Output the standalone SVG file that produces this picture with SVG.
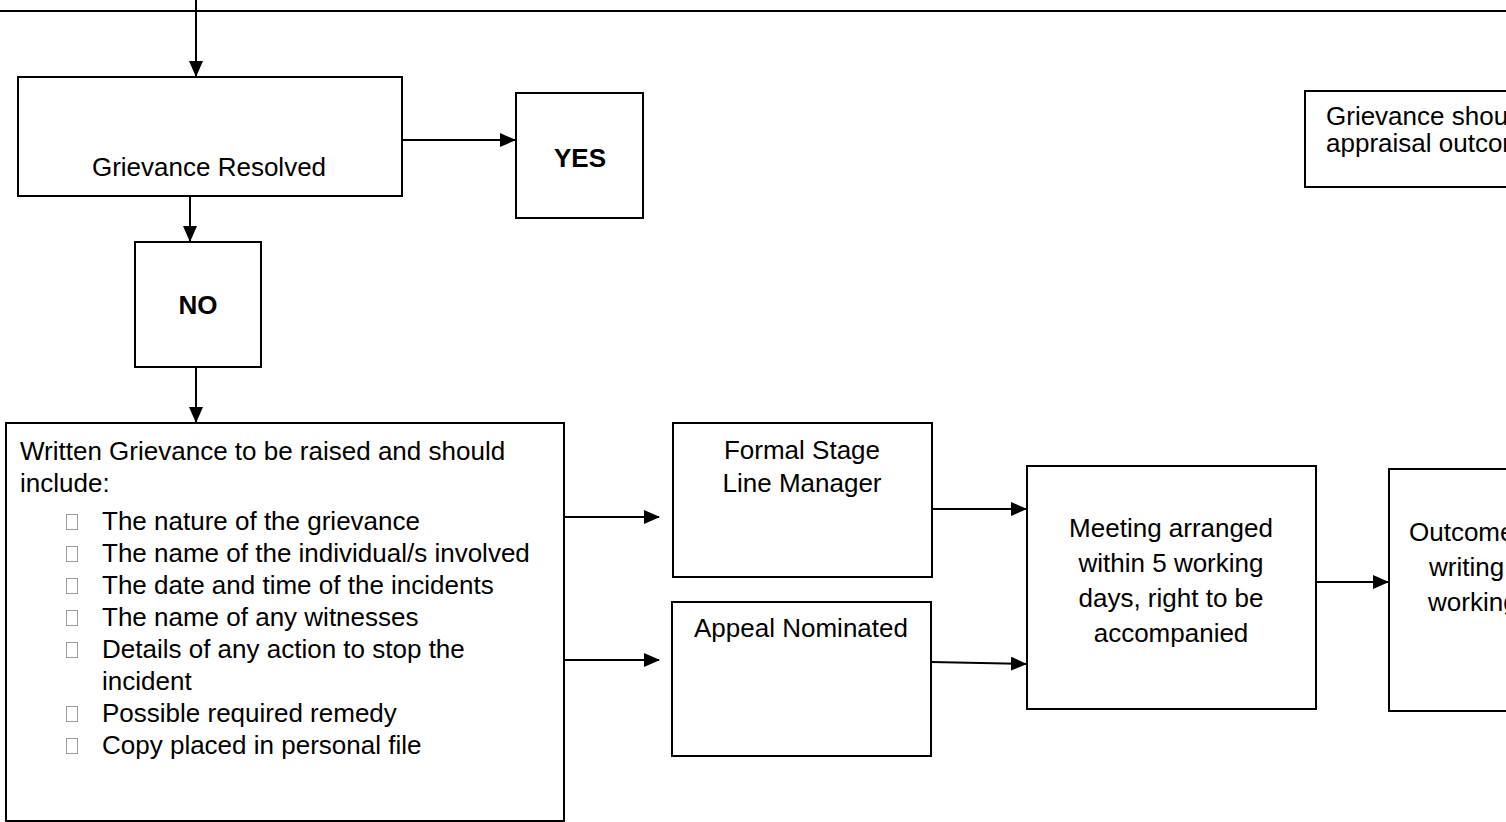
<svg xmlns="http://www.w3.org/2000/svg" width="1506" height="822" viewBox="0 0 1506 822">
<style>
.box{fill:#fff;stroke:#000;stroke-width:2}
.ln{fill:none;stroke:#000;stroke-width:2}
text{font-family:"Liberation Sans",Arial,sans-serif;font-size:26px;fill:#000}
.c{text-anchor:middle}
.b{font-weight:bold}
.bul{fill:none;stroke:#9a9a9a;stroke-width:1}
</style>
<defs>
<marker id="ah" markerUnits="userSpaceOnUse" markerWidth="16" markerHeight="14" refX="15" refY="7" orient="auto">
<path d="M0,0 L16,7 L0,14 Z" fill="#000"/>
</marker>
</defs>
<rect width="1506" height="822" fill="#fff"/>
<g id="connectors">
<line class="ln" x1="0" y1="11" x2="1506" y2="11"/>
<line class="ln" x1="196" y1="0" x2="196" y2="76" marker-end="url(#ah)"/>
<line class="ln" x1="402" y1="140" x2="515" y2="140" marker-end="url(#ah)"/>
<line class="ln" x1="190" y1="196" x2="190" y2="241" marker-end="url(#ah)"/>
<line class="ln" x1="196" y1="367" x2="196" y2="422" marker-end="url(#ah)"/>
<line class="ln" x1="564" y1="517" x2="659" y2="517" marker-end="url(#ah)"/>
<line class="ln" x1="564" y1="660" x2="659" y2="660" marker-end="url(#ah)"/>
<line class="ln" x1="932" y1="509" x2="1026" y2="509" marker-end="url(#ah)"/>
<line class="ln" x1="931" y1="662" x2="1026" y2="664" marker-end="url(#ah)"/>
<line class="ln" x1="1316" y1="582" x2="1388" y2="582" marker-end="url(#ah)"/>
</g>
<g id="resolved">
<rect class="box" x="18" y="77" width="384" height="119"/>
<text class="c" x="209" y="176">Grievance Resolved</text>
</g>
<g id="yes">
<rect class="box" x="516" y="93" width="127" height="125"/>
<text class="c b" x="580" y="167">YES</text>
</g>
<g id="no">
<rect class="box" x="135" y="242" width="126" height="125"/>
<text class="c b" x="198" y="314">NO</text>
</g>
<g id="written">
<rect class="box" x="6" y="423" width="558" height="398"/>
<text x="20" y="460">Written Grievance to be raised and should</text>
<text x="20" y="492">include:</text>
<rect class="bul" x="66.5" y="514.5" width="11" height="15"/><text x="102" y="530">The nature of the grievance</text>
<rect class="bul" x="66.5" y="546.5" width="11" height="15"/><text x="102" y="562">The name of the individual/s involved</text>
<rect class="bul" x="66.5" y="578.5" width="11" height="15"/><text x="102" y="594">The date and time of the incidents</text>
<rect class="bul" x="66.5" y="610.5" width="11" height="15"/><text x="102" y="626">The name of any witnesses</text>
<rect class="bul" x="66.5" y="642.5" width="11" height="15"/><text x="102" y="658">Details of any action to stop the</text>
<text x="102" y="690">incident</text>
<rect class="bul" x="66.5" y="706.5" width="11" height="15"/><text x="102" y="722">Possible required remedy</text>
<rect class="bul" x="66.5" y="738.5" width="11" height="15"/><text x="102" y="754">Copy placed in personal file</text>
</g>
<g id="formal">
<rect class="box" x="673" y="423" width="259" height="154"/>
<text class="c" x="802" y="459">Formal Stage</text>
<text class="c" x="802" y="492">Line Manager</text>
</g>
<g id="appeal">
<rect class="box" x="672" y="602" width="259" height="154"/>
<text class="c" x="801" y="637">Appeal Nominated</text>
</g>
<g id="meeting">
<rect class="box" x="1027" y="466" width="289" height="243"/>
<text class="c" x="1171" y="537">Meeting arranged</text>
<text class="c" x="1171" y="572">within 5 working</text>
<text class="c" x="1171" y="607">days, right to be</text>
<text class="c" x="1171" y="642">accompanied</text>
</g>
<g id="outcome">
<rect class="box" x="1389" y="469" width="140" height="242"/>
<text x="1409" y="541">Outcome</text>
<text x="1429" y="576">writing</text>
<text x="1428" y="611">working</text>
</g>
<g id="note">
<rect class="box" x="1305" y="91" width="230" height="96"/>
<text x="1326" y="125">Grievance should</text>
<text x="1326" y="152">appraisal outcome</text>
</g>
</svg>
